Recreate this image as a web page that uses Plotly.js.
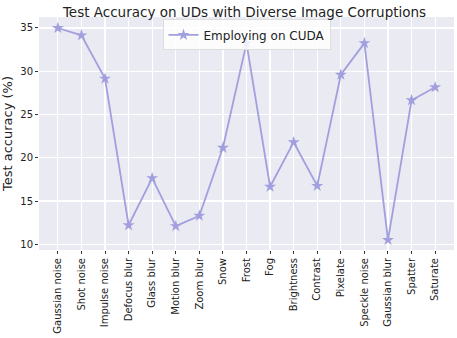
<!DOCTYPE html>
<html>
<head>
<meta charset="utf-8">
<script src="https://cdn.plot.ly/plotly-3.0.1.min.js"></script>
<style>
  html, body { margin: 0; padding: 0; background: #fff; }
  #chart { width: 457px; height: 338px; }
</style>
</head>
<body>
<div id="chart"></div>
<script>
const corruptions = [
  'Gaussian noise', 'Shot noise', 'Impulse noise', 'Defocus blur', 'Glass blur',
  'Motion blur', 'Zoom blur', 'Snow', 'Frost', 'Fog', 'Brightness', 'Contrast',
  'Pixelate', 'Speckle noise', 'Gaussian blur', 'Spatter', 'Saturate'
];
const accuracyCuda = [
  35.0, 34.15, 29.15, 12.2, 17.65, 12.1, 13.3, 21.15, 33.25, 16.65,
  21.8, 16.75, 29.6, 33.25, 10.5, 26.65, 28.15
];
const yTicks = [10, 15, 20, 25, 30, 35];

const trace = {
  x: corruptions.map((_, i) => i),
  y: accuracyCuda,
  type: 'scatter',
  mode: 'lines+markers',
  name: 'Employing on CUDA',
  line: { color: '#a29fde', width: 1.8 },
  marker: { symbol: 'star', size: 9, color: '#a29fde' }
};

const layout = {
  width: 457,
  height: 338,
  margin: { l: 39, r: 3, t: 17, b: 88 },
  paper_bgcolor: '#ffffff',
  plot_bgcolor: '#eaeaf2',
  font: { family: 'DejaVu Sans', color: '#222', size: 10 },
  title: {
    text: 'Test Accuracy on UDs with Diverse Image Corruptions',
    font: { size: 13.5, color: '#222' },
    x: 0.535, xanchor: 'center', y: 0.978, yanchor: 'top'
  },
  xaxis: {
    range: [-0.8, 16.8],
    tickvals: corruptions.map((_, i) => i),
    ticktext: corruptions,
    tickangle: -90,
    ticks: 'outside', ticklen: 3, tickcolor: '#333', tickwidth: 1,
    showgrid: true, gridcolor: '#ffffff', gridwidth: 1.2,
    zeroline: false, showline: false,
    tickfont: { size: 10 }
  },
  yaxis: {
    range: [9.34, 36.27],
    tickvals: yTicks,
    ticks: 'outside', ticklen: 3, tickcolor: '#333', tickwidth: 1,
    showgrid: true, gridcolor: '#ffffff', gridwidth: 1.2,
    zeroline: false, showline: false,
    tickfont: { size: 10 },
    title: { text: 'Test accuracy (%)', font: { size: 13 }, standoff: 6 }
  },
  showlegend: true,
  legend: {
    x: 0.5, xanchor: 'center', y: 0.99, yanchor: 'top',
    bgcolor: 'rgba(255,255,255,0.85)', bordercolor: '#dddddd', borderwidth: 1,
    font: { size: 12 }
  }
};

Plotly.newPlot('chart', [trace], layout, { displayModeBar: false, staticPlot: true });
</script>
</body>
</html>
